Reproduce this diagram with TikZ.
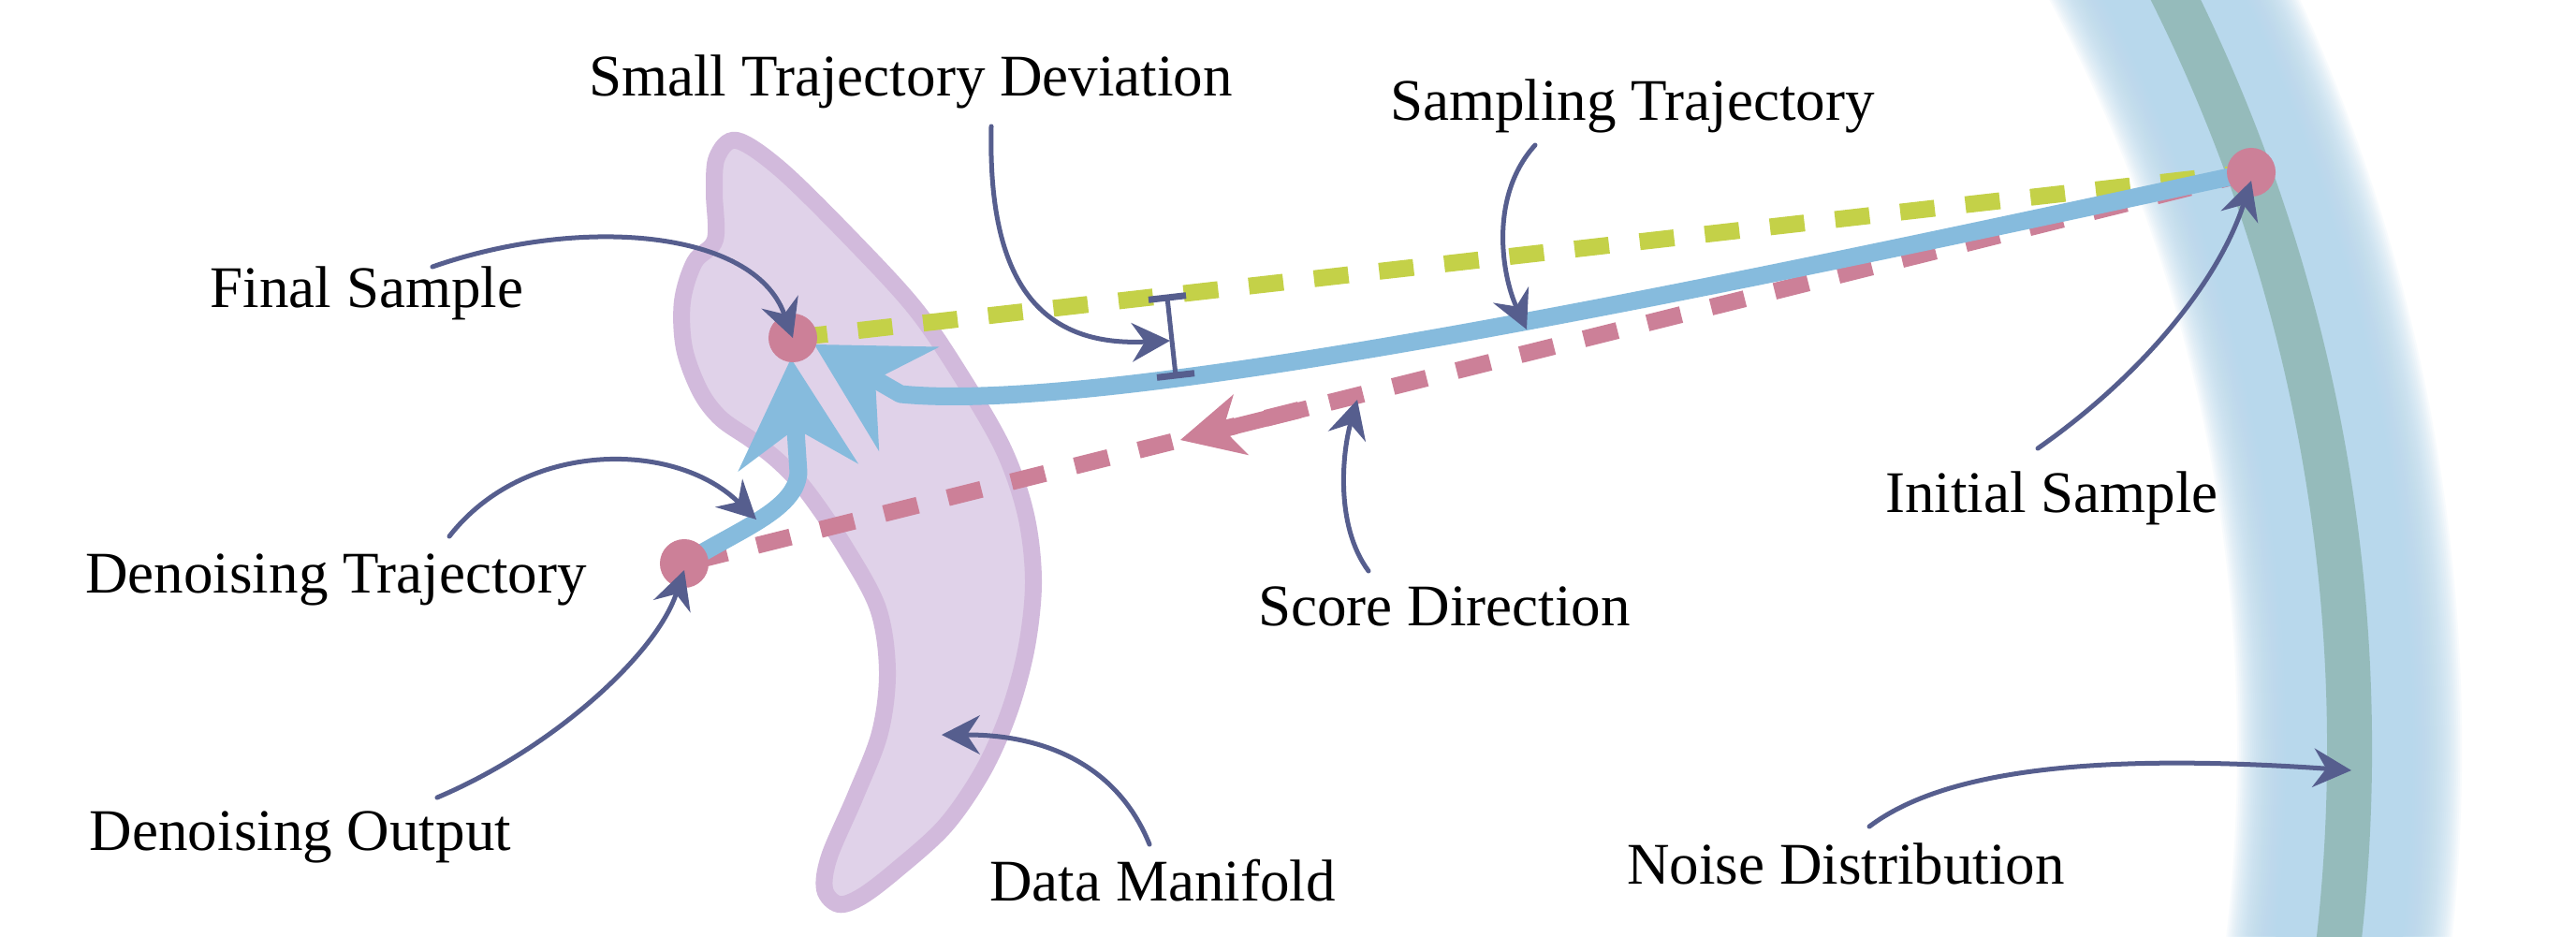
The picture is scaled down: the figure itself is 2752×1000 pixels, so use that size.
\documentclass[tikz,border=0pt]{standalone}
\usepackage{fontspec}
\setmainfont{Liberation Serif}
\usetikzlibrary{arrows.meta}
\definecolor{annc}{HTML}{565E8E}
\definecolor{dotc}{HTML}{CC8098}
\definecolor{trajc}{HTML}{86BBDD}
\definecolor{greenc}{HTML}{C4D148}
\definecolor{pinkc}{HTML}{CC8098}
\definecolor{bandc}{HTML}{95BBBB}
\definecolor{glowc}{HTML}{B8D8EC}
\definecolor{manfill}{HTML}{E0D2E9}
\definecolor{manline}{HTML}{D2BADC}
\pgfdeclarelayer{back}
\pgfdeclarelayer{mid}
\pgfsetlayers{back,mid,main}
\tikzset{
  lbl/.style={anchor=base, inner sep=0pt, font=\fontsize{17.93pt}{21pt}\selectfont},
  sampledot/.style={circle, fill=dotc, minimum size=0.52cm, inner sep=0pt},
  ann/.style={draw=annc, line width=0.05cm, line cap=round,
    -{Stealth[length=0.41cm, width=0.42cm, inset=0.14cm, line width=0pt]}},
  trajarrow/.style={draw=trajc, line width=0.19cm, line join=round,
    -{Stealth[length=1.17cm, width=1.29cm, inset=0.42cm, line width=0pt]}},
  greendash/.style={draw=greenc, line width=0.18cm, dash pattern=on 0.37cm off 0.33cm},
  pinkdash/.style={draw=pinkc, line width=0.18cm, dash pattern=on 0.37cm off 0.33cm, dash phase=0.6cm},
  scorearrow/.style={draw=pinkc, line width=0.17cm,
    -{Stealth[length=0.67cm, width=0.67cm, inset=0.2cm, line width=0pt]}},
  manifold/.style={fill=manfill, draw=manline, line width=0.18cm},
  devbar/.style={draw=annc, line width=0.05cm},
  devcap/.style={draw=annc, line width=0.07cm},
}
\begin{document}
\begin{tikzpicture}[x=0.01cm, y=-0.01cm]
\useasboundingbox (0,0) rectangle (2752,1000);

% sample points
\node[sampledot] (fin) at (847,361) {};
\node[sampledot] (den) at (731,602) {};
\node[sampledot] (init) at (2405,184) {};

% labels
\node[lbl] (lstd) at (973,102) {Small Trajectory Deviation};
\node[lbl] (lst) at (1744,128) {Sampling Trajectory};
\node[lbl] (lfs) at (392,328) {Final Sample};
\node[lbl] (ldt) at (359,633) {Denoising Trajectory};
\node[lbl] (ldo) at (321,908) {Denoising Output};
\node[lbl] (ldm) at (1242,962) {Data Manifold};
\node[lbl] (lsd) at (1543,668) {Score Direction};
\node[lbl] (lis) at (2192,547) {Initial Sample};
\node[lbl] (lnd) at (1972,944) {Noise Distribution};

% connector free ends
\coordinate (sstd) at (1059,135);
\coordinate (sst) at (1640,155);
\coordinate (sfs) at (462,285);
\coordinate (sdt) at (480,573);
\coordinate (sdo) at (467,852);
\coordinate (sdm) at (1228,902);
\coordinate (ssd) at (1462,610);
\coordinate (sis) at (2177,479);
\coordinate (snd) at (1997,883);
\coordinate (devtip) at (1250,364);
\coordinate (sttip) at (1631,352);
\coordinate (dttip) at (808,555);
\coordinate (dmtip) at (1006,785);
\coordinate (sdtip) at (1450,427);
\coordinate (ndtip) at (2512,823);
\coordinate (fintip) at (870,368);
\coordinate (dentip) at (845,383);
\coordinate (scA) at (1397,436);
\coordinate (scB) at (1261,470);
\coordinate (devT) at (1247,318);
\coordinate (devB) at (1256,401);

% background: noise band and manifold
\begin{pgfonlayer}{back}
  \fill[white] (0,0) rectangle (2752,1000);
  \begin{scope}
    \clip (0,0) rectangle (2752,1000);
    \foreach \w in {2.40,2.36,...,1.40}
      \draw[glowc, line width=\w cm, opacity=0.09] (697,800) circle[radius=18.12cm];
    \draw[glowc, line width=1.35cm] (697,800) circle[radius=18.12cm];
    \draw[bandc, line width=0.48cm] (697,800) circle[radius=18.12cm];
  \end{scope}
  \draw[manifold] plot[smooth cycle, tension=0.55] coordinates {
    (787,150) (835,182) (912,258) (978,330) (1027,402) (1072,480) (1096,550)
    (1104,620) (1097,690) (1079,758) (1051,822) (1010,882) (957,930) (920,958)
    (896,966) (881,950) (886,915) (914,850) (940,783) (948,717) (938,650)
    (903,585) (862,525) (833,494) (803,470) (770,447) (748,418) (731,372)
    (729,322) (742,280) (764,256) (763,205) (766,168)};
\end{pgfonlayer}

% trajectories
\begin{pgfonlayer}{mid}
  \draw[greendash] (fin.center) -- (init.center);
  \draw[pinkdash] (den.center) -- (init.center);
  \draw[scorearrow] (scA) -- (scB);
  \draw[trajarrow] (init.center) .. controls (1917,289) and (1200,445) .. (962,421) -- (fintip);
  \draw[trajarrow] (den.center) .. controls (790,565) and (850,545) .. (853,505) -- (dentip);
\end{pgfonlayer}

% deviation bar
\draw[devbar] (devT) -- (devB);
\draw[devcap] (1227,320.3) -- (1267,315.7);
\draw[devcap] (1236,403.3) -- (1276,398.7);

% annotation arrows
\draw[ann] (sstd) .. controls (1055,300) and (1110,370) .. (devtip);
\draw[ann] (sst) .. controls (1590,210) and (1605,295) .. (sttip);
\draw[ann] (sfs) .. controls (620,230) and (805,245) .. (fin.center);
\draw[ann] (sdt) .. controls (560,470) and (720,470) .. (dttip);
\draw[ann] (sdo) .. controls (590,800) and (700,700) .. ([yshift=-0.07cm]den.center);
\draw[ann] (sdm) .. controls (1195,820) and (1120,785) .. (dmtip);
\draw[ann] (ssd) .. controls (1425,560) and (1435,480) .. (sdtip);
\draw[ann] (sis) .. controls (2290,400) and (2370,300) .. ([yshift=-0.09cm]init.center);
\draw[ann] (snd) .. controls (2080,820) and (2250,805) .. (ndtip);
\end{tikzpicture}
\end{document}
